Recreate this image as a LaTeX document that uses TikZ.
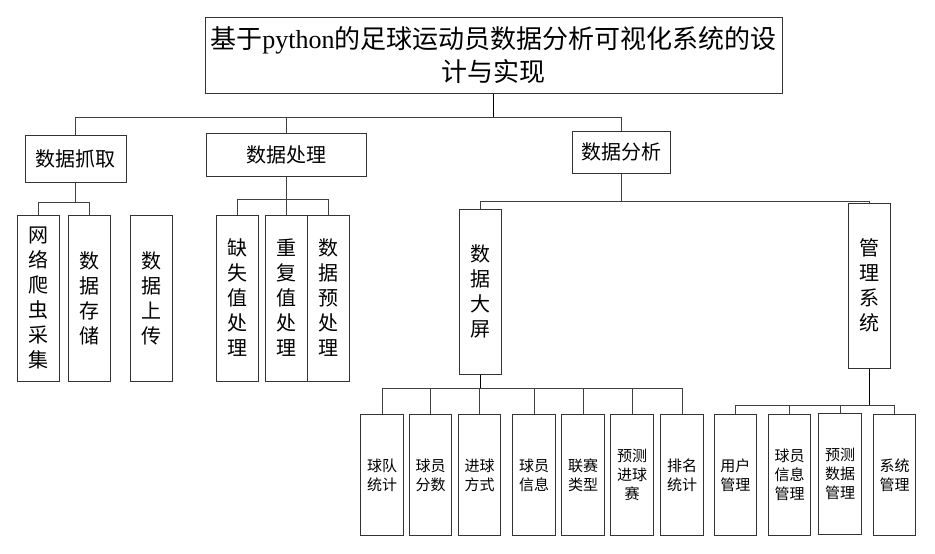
\documentclass[tikz,border=0pt]{standalone}
\usepackage{fontspec}
\setmainfont{Noto Sans CJK SC}
\newfontfamily\latinserif{Liberation Serif}
\begin{document}
\begin{tikzpicture}[x=1pt,y=-1pt,
  box/.style={draw=black!80,line width=1pt,rectangle,inner sep=0pt,align=center},
  topbox/.style={box,minimum width=577pt,minimum height=76pt,font=\fontsize{26}{33}\selectfont},
  lonebox/.style={box,font=\fontsize{20}{24}\selectfont},
  vbox/.style={box,minimum width=42pt,minimum height=166pt,font=\fontsize{20}{25}\selectfont},
  leafbox/.style={box,minimum width=42.5pt,minimum height=121pt,font=\fontsize{15}{19}\selectfont},
  conn/.style={draw=black!75,line width=1pt},
  strong/.style={draw=black,line width=1.6pt}]
\fill[white] (0,0) rectangle (935,554);
\useasboundingbox (0,0) rectangle (935,554);

% title
\node[topbox] (title) at (493.5,55) {基于{\latinserif python}的足球运动员数据分析可视化系统的设\\计与实现};

% level 1
\node[lonebox,minimum width=101pt,minimum height=47pt] (scrape) at (75.5,158.5) {数据抓取};
\node[lonebox,minimum width=160pt,minimum height=43pt] (proc) at (286.5,154.5) {数据处理};
\node[lonebox,minimum width=98pt,minimum height=42pt] (anal) at (621,152) {数据分析};

% level 2
\node[vbox] (crawl) at (38.5,298) {网\\络\\爬\\虫\\采\\集};
\node[vbox] (store) at (89,298) {数\\据\\存\\储};
\node[vbox] (upload) at (151,298) {数\\据\\上\\传};
\node[vbox] (miss) at (237,298) {缺\\失\\值\\处\\理};
\node[vbox] (dup) at (286.5,298) {重\\复\\值\\处\\理};
\node[vbox] (pre) at (328,298) {数\\据\\预\\处\\理};
\node[vbox,minimum height=165pt] (screen) at (480.5,291.5) {数\\据\\大\\屏};
\node[vbox,minimum height=165pt] (mgmt) at (869.5,285.5) {管\\理\\系\\统};

% level 3
\node[leafbox] (s1) at (382,475) {球队\\统计};
\node[leafbox] (s2) at (430.7,475) {球员\\分数};
\node[leafbox] (s3) at (479.7,475) {进球\\方式};
\node[leafbox] (s4) at (534.2,475) {球员\\信息};
\node[leafbox] (s5) at (583.2,475) {联赛\\类型};
\node[leafbox] (s6) at (632,475) {预测\\进球\\赛};
\node[leafbox] (s7) at (682,475) {排名\\统计};
\node[leafbox] (m1) at (735.3,475) {用户\\管理};
\node[leafbox] (m2) at (789.7,475) {球员\\信息\\管理};
\node[leafbox] (m3) at (840,474) {预测\\数据\\管理};
\node[leafbox] (m4) at (894.7,475) {系统\\管理};

% bus points
\coordinate (b0) at (493.5,117);
\coordinate (b2) at (75.5,202);
\coordinate (b3) at (286.5,199);
\coordinate (b4) at (621,201);
\coordinate (b5) at (480.5,388);
\coordinate (b6) at (869.5,405);

% connectors
\draw[draw=black,line width=1pt] (title.south) -- (b0);
\draw[conn] (scrape.north) |- (b0);
\draw[conn] (proc.north) |- (b0);
\draw[conn] (anal.north) |- (b0);

\draw[conn] (scrape.south) -- (b2);
\draw[conn] (crawl.north) |- (b2);
\draw[conn] (store.north) |- (b2);

\draw[conn] (proc.south) -- (b3);
\draw[conn] (miss.north) |- (b3);
\draw[conn] (dup.north) -- (b3);
\draw[conn] (pre.north) |- (b3);

\draw[conn] (anal.south) -- (b4);
\draw[conn] (screen.north) |- (b4);
\draw[conn] (mgmt.north) |- (b4);

\draw[strong] (screen.south) -- (b5);
\foreach \n in {s1,s2,s3,s4,s5,s6,s7}{\draw[conn] (\n.north) |- (b5);}

\draw[draw=black,line width=1.2pt] (mgmt.south) -- (b6);
\foreach \n in {m1,m2,m3,m4}{\draw[conn] (\n.north) |- (b6);}
\end{tikzpicture}
\end{document}
